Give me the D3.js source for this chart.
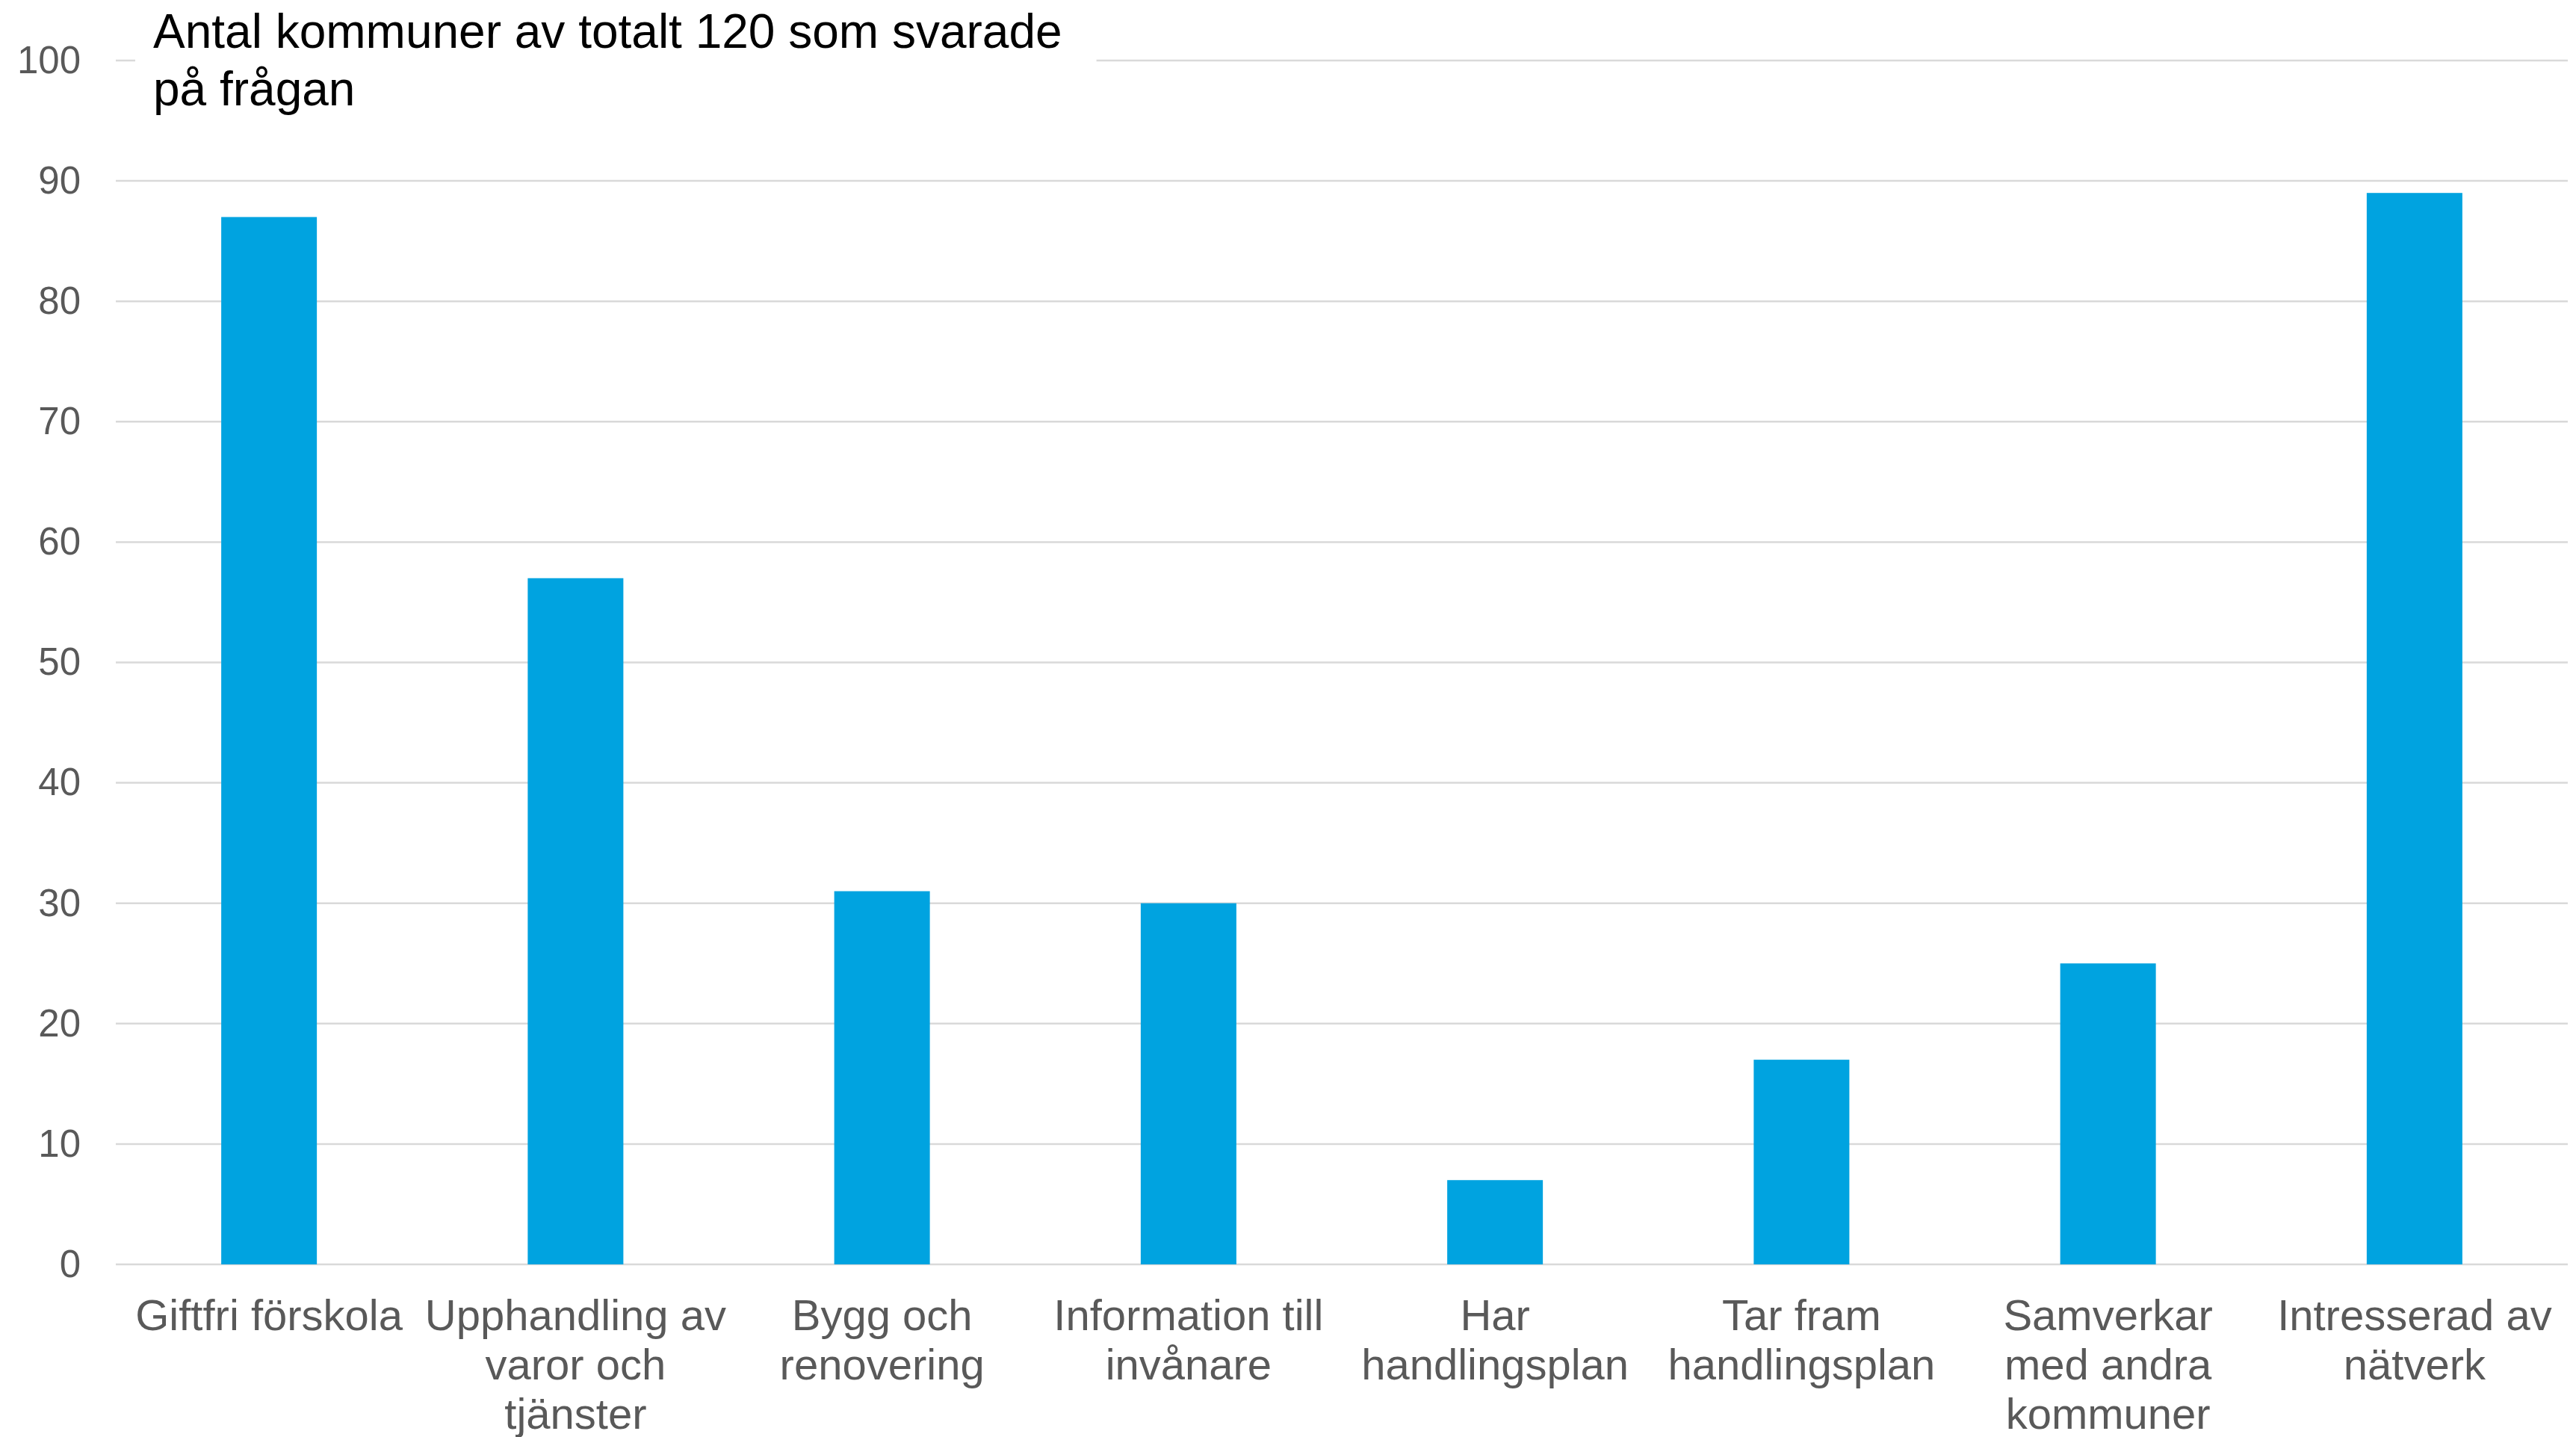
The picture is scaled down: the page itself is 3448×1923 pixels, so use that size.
<html>
  <head>
    <meta charset="utf-8">
    <script src="https://cdn.jsdelivr.net/npm/d3@7"></script>
    <style>
      body { margin: 0; background: #fff; }
      text { font-family: "Liberation Sans", Arial, sans-serif; }
      .axis .domain { display: none; }
      .axis .tick line { display: none; }
      .grid line { stroke: #d9d9d9; stroke-width: 2.5px; }
    </style>
  </head>
  <body>
    <svg width="3448" height="1923"></svg>
    <script>
      // data
      var categories = [
        'Giftfri förskola',
        'Upphandling av\nvaror och\ntjänster',
        'Bygg och\nrenovering',
        'Information till\ninvånare',
        'Har\nhandlingsplan',
        'Tar fram\nhandlingsplan',
        'Samverkar\nmed andra\nkommuner',
        'Intresserad av\nnätverk'
      ];
      var values = [87, 57, 31, 30, 7, 17, 25, 89];
      var yTicks = [0, 10, 20, 30, 40, 50, 60, 70, 80, 90, 100];
      var titleLines = ['Antal kommuner av totalt 120 som svarade', 'på frågan'];

      var svg = d3.select('svg');
      var margin = { left: 155, right: 11, top: 81, bottom: 231 };
      var width = +svg.attr('width');
      var height = +svg.attr('height');

      var xScale = d3.scaleBand()
        .domain(d3.range(categories.length))
        .range([margin.left, width - margin.right])
        .paddingInner(0.688)
        .paddingOuter(0.344);

      var yScale = d3.scaleLinear()
        .domain([0, 100])
        .range([height - margin.bottom, margin.top]);

      // gridlines
      svg.append('g')
          .attr('class', 'grid')
        .selectAll('line').data(yTicks)
        .enter().append('line')
          .attr('x1', margin.left)
          .attr('x2', width - margin.right)
          .attr('y1', d => yScale(d))
          .attr('y2', d => yScale(d));

      // bars
      svg.append('g').selectAll('rect').data(values)
        .enter().append('rect')
          .attr('x', (d, i) => xScale(i))
          .attr('width', xScale.bandwidth())
          .attr('y', d => yScale(d))
          .attr('height', d => yScale(0) - yScale(d))
          .attr('fill', '#00a3e0');

      // y axis
      var yAxis = d3.axisLeft(yScale).tickValues(yTicks).tickSize(0).tickPadding(0);
      var yAxisG = svg.append('g')
          .attr('class', 'axis')
          .attr('transform', 'translate(108,0)')
          .call(yAxis);
      yAxisG.selectAll('text')
          .attr('font-size', 51)
          .attr('fill', '#595959')
          .attr('font-family', '"Liberation Sans", Arial, sans-serif');

      // x axis
      var xAxis = d3.axisBottom(xScale).tickSize(0).tickFormat('');
      var xAxisG = svg.append('g')
          .attr('class', 'axis')
          .attr('transform', `translate(0,${height - margin.bottom})`)
          .call(xAxis);
      xAxisG.selectAll('.tick').each(function (d) {
        var t = d3.select(this).append('text')
          .attr('text-anchor', 'middle')
          .attr('font-size', 58)
          .attr('fill', '#595959')
          .attr('font-family', '"Liberation Sans", Arial, sans-serif');
        categories[d].split('\n').forEach(function (line, i) {
          t.append('tspan')
            .attr('x', 0)
            .attr('y', 88 + i * 66)
            .text(line);
        });
      });

      // title with white box over the top gridline
      var titleG = svg.append('g');
      var titleBox = titleG.append('rect').attr('fill', '#fff');
      var title = titleG.append('text')
          .attr('font-size', 64)
          .attr('fill', '#000');
      titleLines.forEach(function (line, i) {
        title.append('tspan')
          .attr('x', 205)
          .attr('y', 64 + i * 77)
          .text(line);
      });
      var bb = title.node().getBBox();
      titleBox
          .attr('x', bb.x - 24)
          .attr('y', 0)
          .attr('width', bb.width + 70)
          .attr('height', bb.y + bb.height + 10);
    </script>
  </body>
</html>
